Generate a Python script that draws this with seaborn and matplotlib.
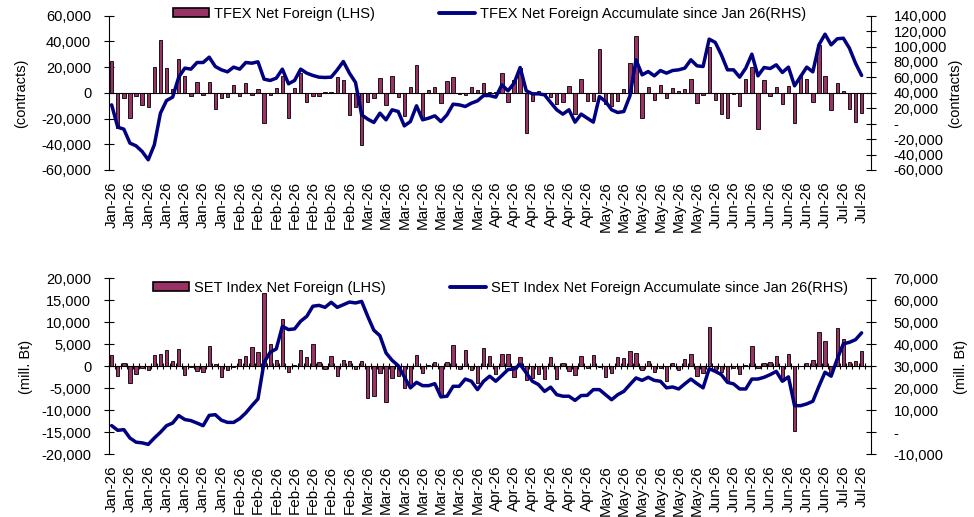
import numpy as np
import matplotlib
matplotlib.use("Agg")
import matplotlib.pyplot as plt
from matplotlib.patches import Patch
from matplotlib.lines import Line2D
from matplotlib.ticker import FuncFormatter
import seaborn as sns

# ---------------------------------
# data
# ---------------------------------
tfex_net = [24400, -27500, -4200, -19700, -2300, -9400, -11000, 20000, 41300, 19500,
            3000, 26200, 12700, -2300, 8800, -1500, 8800, -12700, -4000, -3300,
            6000, -2300, 7300, -1500, 2900, -23600, -1500, 3600, 13200, -19700,
            3900, 15300, -6800, -2300, -2300, 300, 800, 12000, 9600, -17100,
            -11200, -40500, -6800, -4200, 11400, -9400, 13200, -2900, -17900, 4900,
            21300, -19700, 2300, 4200, -8000, 9400, 12200, -1000, -2000, 4200,
            2300, 7500, 1000, 500, 15800, -7300, 10100, 19400, -31500, -6000,
            1500, -800, -3400, -8800, -7500, 5400, -16400, 10600, -6000, -6000,
            34000, -9000, -10000, -6000, 3100, 23100, 43900, -19700, 4200, -5500,
            5700, -4200, 3600, 1600, 2900, 10900, -8000, -1800, 35600, -5500,
            -16600, -19200, -1000, -10100, 10900, 20000, -28300, 10100, -2300, 4900,
            -8800, 5500, -23100, 14000, 10600, -6800, 37400, 13200, -13200, 8000,
            1800, -12700, -22300, -15300]

tfex_acc = [24400, -4500, -7100, -25200, -28700, -36000, -46800, -27400, 13600, 30000,
            34400, 60300, 72000, 70700, 79300, 79300, 86200, 74100, 69800, 67200,
            73300, 70700, 79300, 78400, 80200, 57700, 56000, 59000, 70700, 51700,
            56000, 70700, 65500, 62500, 60300, 59900, 60300, 69800, 80600, 65500,
            53400, 11500, 5900, 1600, 13600, 5000, 18000, 15800, -2800, 2800,
            23200, 5000, 7200, 10200, 2800, 11500, 25300, 24400, 22300, 26600,
            29600, 36500, 36500, 34400, 50400, 42600, 52500, 72800, 42600, 38700,
            38700, 37400, 27500, 18000, 12400, 18000, 2000, 12400, 7200, 2000,
            35200, 28800, 18000, 14500, 15800, 36000, 82800, 63300, 67600, 62000,
            68900, 65500, 68900, 69800, 72000, 82800, 75000, 74100, 109600, 105300,
            89200, 69800, 69800, 60300, 72000, 90100, 62000, 72800, 71500, 76300,
            66400, 73300, 49100, 61200, 73300, 67200, 102200, 116000, 102200, 110000,
            110800, 97900, 78400, 62500]

set_net = [2650, -2100, 750, -3800, -1700, -300, -750, 2600, 2800, 3600,
           1100, 3900, -1900, -200, -1000, -1200, 4700, 500, -2500, -750,
           -250, 1700, 2300, 4300, 3200, 16700, 5100, 1400, 10800, -1300,
           400, 3600, 2100, 5100, 900, -600, 2300, -2300, 1500, 1100,
           -600, 1100, -7200, -6700, -1500, -8200, -2700, -2300, -4900, -4400,
           2650, -1500, 400, 1000, -6800, 900, 4900, -600, 3600, -900,
           -3800, 4200, 2300, -1700, 2900, 2900, -2500, 2000, -3200, -2700,
           -1700, -3000, 2000, -3000, 800, -1100, -1900, 2300, -400, 2650,
           -200, -2500, -1500, 2000, 1900, 3400, 3000, -750, 1300, -1300,
           -300, -3300, 750, -750, 1700, 2800, -2100, -1500, 8900, -750,
           -1400, -3400, -400, -1700, 200, 4700, -400, 750, 1000, 2300,
           -3400, 2800, -14800, 100, 750, 1500, 7800, 5800, -1500, 8700,
           6100, 1000, 1300, 3400]

set_acc = [3030, 900, 1200, -2600, -4500, -4800, -5500, -2600, 0, 3000,
           4200, 7600, 5800, 5300, 4200, 3000, 7700, 8000, 5500, 4500,
           4500, 6200, 8800, 12100, 15200, 31800, 36400, 37900, 48200, 46700,
           47000, 50500, 52700, 57300, 57700, 56800, 59100, 56800, 58000, 59200,
           58800, 59500, 52700, 46400, 43900, 36100, 32700, 30300, 25200, 20200,
           22700, 21200, 21200, 22100, 16100, 16400, 20900, 20900, 24200, 23200,
           19400, 23200, 25500, 23200, 25800, 28500, 28800, 30800, 27000, 23200,
           21700, 18600, 20500, 17100, 16400, 16400, 14500, 16700, 16800, 19400,
           19400, 17100, 14800, 17100, 18600, 21700, 24700, 23600, 25000, 23600,
           23200, 20200, 20600, 19700, 22000, 24200, 22100, 20200, 28900, 27700,
           26200, 22700, 22000, 19700, 19700, 24200, 24200, 25000, 26200, 27700,
           23200, 25200, 12100, 12100, 12900, 14100, 20900, 27300, 25500, 33300,
           40200, 40900, 42100, 45200]

# one label every third trading day
tick_labels = (["Jan-26"] * 7 + ["Feb-26"] * 7 + ["Mar-26"] * 7 + ["Apr-26"] * 6
               + ["May-26"] * 6 + ["Jun-26"] * 7 + ["Jul-26"] * 2)

BAR = "#993366"
LINE = "#000080"

sns.set_theme(style="white")
plt.rcParams["font.family"] = ["Liberation Sans", "DejaVu Sans"]
plt.rcParams["text.color"] = "black"
plt.rcParams["axes.edgecolor"] = "black"
plt.rcParams["xtick.color"] = "black"
plt.rcParams["ytick.color"] = "black"


def fmt_left(v, _):
    return f"{v:,.0f}"


def fmt_right(v, _):
    return "-" if v == 0 else f"{v:,.0f}"


def draw_panel(ax, net, acc, ylim_l, step_l, ylim_r, step_r, bar_label, line_label,
               legend_xy, minor_ticks):
    idx = np.arange(len(net))
    axr = ax.twinx()

    sns.barplot(x=idx, y=net, ax=ax, color=BAR, edgecolor="black", linewidth=0.6,
                width=0.55, saturation=1)
    sns.lineplot(x=idx, y=acc, ax=axr, color=LINE, linewidth=2.5)

    ax.set_xlim(-0.5, len(net) + 0.5)
    ax.set_ylim(*ylim_l)
    ax.set_yticks(np.arange(ylim_l[0], ylim_l[1] + 1, step_l))
    ax.yaxis.set_major_formatter(FuncFormatter(fmt_left))
    axr.set_ylim(*ylim_r)
    axr.set_yticks(np.arange(ylim_r[0], ylim_r[1] + 1, step_r))
    axr.yaxis.set_major_formatter(FuncFormatter(fmt_right))
    ax.set_xlabel("")
    ax.set_ylabel("")
    axr.set_ylabel("")

    for s in ["top", "right"]:
        ax.spines[s].set_visible(False)
    for s in ["top", "left", "bottom"]:
        axr.spines[s].set_visible(False)
    ax.spines["bottom"].set_position(("data", 0))
    ax.spines["bottom"].set_linewidth(0.8)
    ax.spines["left"].set_linewidth(0.8)
    axr.spines["right"].set_linewidth(0.8)

    ax.tick_params(axis="y", direction="inout", length=7, width=0.8, pad=9,
                   labelsize=10.5, left=True)
    axr.tick_params(axis="y", direction="inout", length=7, width=0.8, pad=13,
                    labelsize=10.5, right=True)

    # zero line ticks, labels below the plot area
    ax.set_xticks([])
    if minor_ticks:
        ax.set_xticks(np.arange(-0.5, len(net), 1), minor=True)
        ax.tick_params(axis="x", which="minor", direction="inout", length=5,
                       width=0.8, bottom=True)
    sec = ax.secondary_xaxis(0.0)
    sec.set_xticks(np.arange(0, len(net), 3), labels=tick_labels)
    sec.tick_params(length=0, pad=8, labelsize=11, labelrotation=90)
    sec.spines["bottom"].set_visible(False)

    handles = [Patch(facecolor=BAR, edgecolor="black", linewidth=1.2),
               Line2D([], [], color=LINE, linewidth=2.8)]
    fig.legend(handles, [bar_label, line_label], loc="center left",
               bbox_to_anchor=legend_xy, ncol=2, frameon=False, borderpad=0,
               borderaxespad=0, handlelength=2.5, handleheight=0.6,
               handletextpad=0.3, columnspacing=4.4, fontsize=10.5)
    return axr


fig = plt.figure(figsize=(9.74, 5.17), dpi=100)

ax_top = fig.add_axes([0.1115, 0.6712, 0.7825, 0.2985])
draw_panel(ax_top, tfex_net, tfex_acc, (-60000, 60000), 20000, (-60000, 140000), 20000,
           "TFEX Net Foreign (LHS)", "TFEX Net Foreign Accumulate since Jan 26(RHS)",
           (173 / 974, 1 - 14 / 517), False)

ax_bot = fig.add_axes([0.1115, 0.1213, 0.7825, 0.3404])
draw_panel(ax_bot, set_net, set_acc, (-20000, 20000), 5000, (-10000, 70000), 10000,
           "SET Index Net Foreign (LHS)", "SET Index Net Foreign Accumulate since Jan 26(RHS)",
           (153 / 974, 1 - 288 / 517), True)

fig.text(21 / 974, 1 - 93 / 517, "(contracts)", rotation=90, ha="center", va="center",
         fontsize=10.5)
fig.text(955 / 974, 1 - 93 / 517, "(contracts)", rotation=90, ha="center", va="center",
         fontsize=10.5)
fig.text(26 / 974, 1 - 367 / 517, "(mill. Bt)", rotation=90, ha="center", va="center",
         fontsize=10.5)
fig.text(961 / 974, 1 - 367 / 517, "(mill. Bt)", rotation=90, ha="center", va="center",
         fontsize=10.5)

fig.savefig("out.png", dpi=100)
